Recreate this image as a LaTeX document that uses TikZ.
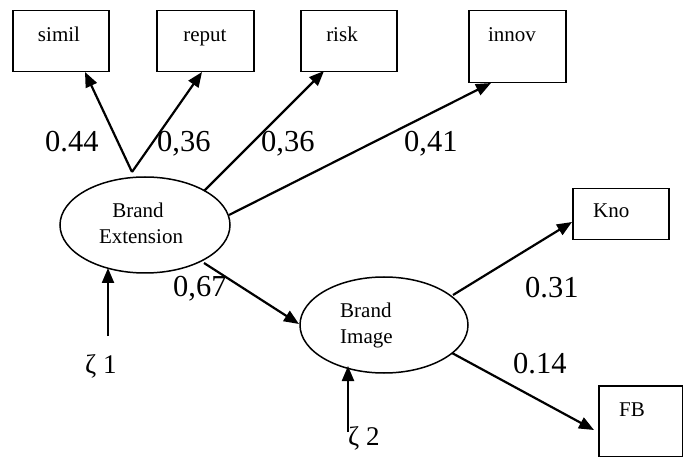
\documentclass[tikz,border=0pt]{standalone}
\usepackage{fontspec}
\setmainfont{Liberation Serif}
\usetikzlibrary{arrows.meta,shapes.geometric}
\begin{document}
\begin{tikzpicture}[x=1pt,y=-1pt,
  box/.style={draw,line width=1.5pt,rectangle,inner sep=0pt,anchor=north west},
  lat/.style={draw,line width=1.5pt,ellipse,inner sep=0pt},
  arr/.style={line width=2.2pt,-{Triangle[length=15pt,width=12pt]}},
  lbl/.style={font=\fontsize{21}{25}\selectfont,inner sep=0pt,anchor=base},
  lblw/.style={font=\fontsize{21}{25}\selectfont,inner sep=0pt,anchor=base west},
  num/.style={font=\fontsize{30.5}{36}\selectfont,inner sep=0pt,anchor=base west},
  zet/.style={font=\fontsize{27}{32}\selectfont,inner sep=0pt,anchor=base west}]
\useasboundingbox (0,0) rectangle (683,457);

% observed variables
\node[box,minimum width=96pt,minimum height=61pt] (simil) at (12,10) {};
\node[box,minimum width=97pt,minimum height=61pt] (reput) at (156,10) {};
\node[box,minimum width=96pt,minimum height=61pt] (risk) at (300,10) {};
\node[box,minimum width=97pt,minimum height=72pt] (innov) at (468,10) {};
\node[box,minimum width=96pt,minimum height=51pt] (kno) at (572,188) {};
\node[box,minimum width=84pt,minimum height=71pt] (fb) at (598,385) {};

\node[lbl] (t-simil) at (59,42) {simil};
\node[lbl] (t-reput) at (205,42) {reput};
\node[lbl] (t-risk) at (342,42) {risk};
\node[lbl] (t-innov) at (512,42) {innov};
\node[lblw] (t-kno) at (593,218) {Kno};
\node[lblw] (t-fb) at (619,416) {FB};

% latent variables
\node[lat,minimum width=170pt,minimum height=96pt] (be) at (145,225) {};
\node[lat,minimum width=168pt,minimum height=96pt] (bi) at (384,325) {};
\node[lbl] (t-be1) at (138,218) {Brand};
\node[lbl] (t-be2) at (141,244) {Extension};
\node[lblw] (t-bi1) at (340,317) {Brand};
\node[lblw] (t-bi2) at (340,343) {Image};

% connector end points
\coordinate (be-top) at (132,172);
\coordinate (be-risk) at (204,191);
\coordinate (be-innov) at (229,215);
\coordinate (be-bi) at (204,263);
\coordinate (simil-in) at (85,72);
\coordinate (reput-in) at (202,72);
\coordinate (risk-in) at (324,71);
\coordinate (innov-in) at (491,83);
\coordinate (bi-in) at (299,324);
\coordinate (be-in) at (108,268);
\coordinate (z1) at (108,336);
\coordinate (bi-z) at (348,366);
\coordinate (z2) at (348,432);
\coordinate (bi-kno) at (453,295);
\coordinate (kno-in) at (572,222);
\coordinate (bi-fb) at (452,353);
\coordinate (fb-in) at (594,430);

\draw[arr] (be-top) -- (simil-in);
\draw[arr] (be-top) -- (reput-in);
\draw[arr] (be-risk) -- (risk-in);
\draw[arr] (be-innov) -- (innov-in);
\draw[arr] (be-bi) -- (bi-in);
\draw[arr] (z1) -- (be-in);
\draw[arr] (z2) -- (bi-z);
\draw[arr] (bi-kno) -- (kno-in);
\draw[arr] (bi-fb) -- (fb-in);

% coefficients
\node[num] (n1) at (45,152) {0.44};
\node[num] (n2) at (157,152) {0,36};
\node[num] (n3) at (261,152) {0,36};
\node[num] (n4) at (404,152) {0,41};
\node[num] (n5) at (173,297) {0,67};
\node[num] (n6) at (525,298) {0.31};
\node[num] (n7) at (513,373) {0.14};
\node[zet] (zeta1) at (85,373) {ζ 1};
\node[zet] (zeta2) at (348,445) {ζ 2};
\end{tikzpicture}
\end{document}
